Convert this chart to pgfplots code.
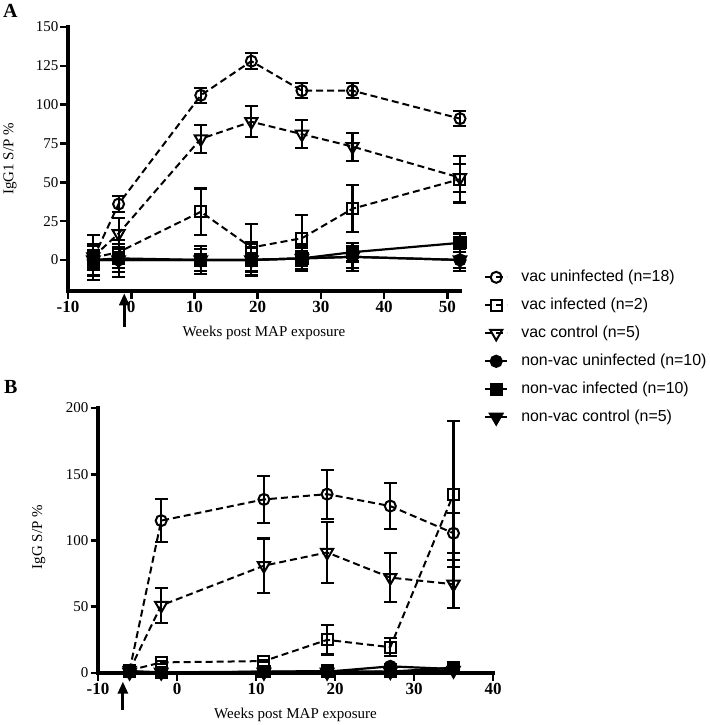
\documentclass[border=0pt]{standalone}
\usepackage{fontspec}
\setmainfont{Liberation Serif}
\newfontfamily\legfont{Liberation Sans}
\usepackage{pgfplots}
\pgfplotsset{compat=1.18}
\usetikzlibrary{arrows.meta}
\tikzset{thickaxes/.style={line width=3.4pt,black,line cap=rect}}
\pgfplotsset{
 gp/.style={
  scale only axis,
  axis x line=bottom, axis y line=left,
  every outer x axis line/.append style={line width=3.4pt,-},
  every outer y axis line/.append style={line width=3.4pt,-},
  tick align=outside,
  major tick length=7.5pt,
  every tick/.append style={line width=2.6pt,black},
  major tick style={line width=2.6pt,black},
  xticklabel style={font=\fontsize{17}{19}\selectfont\bfseries,inner sep=2pt},
  yticklabel style={font=\fontsize{15}{17}\selectfont,inner sep=2pt},
  label style={font=\fontsize{15}{17}\selectfont},
  clip=false,
 },
 errb/.style={error bars/y dir=both, error bars/y explicit,
   error bars/error bar style={line width=2.1pt,solid,black},
   error bars/error mark options={rotate=90,mark size=6.5pt,line width=2.1pt,solid,black}},
 vac/.style={black,line width=2pt,dash pattern=on 7pt off 4pt, errb},
 nonvac/.style={black,line width=2.2pt,solid, errb},
 m1/.style={mark=o,mark size=5.5pt,mark options={solid,line width=2pt,fill=none}},
 m2/.style={mark=square,mark size=5.5pt,mark options={solid,line width=2pt,fill=none}},
 m3/.style={mark=triangle,mark size=7pt,mark options={solid,line width=2pt,fill=none,rotate=180}},
 m4/.style={mark=*,mark size=5.5pt,mark options={solid,fill=black}},
 m5/.style={mark=square*,mark size=5.5pt,mark options={solid,fill=black}},
 m6/.style={mark=triangle*,mark size=7pt,mark options={solid,fill=black,rotate=180}},
}
\begin{document}
\begin{tikzpicture}
\useasboundingbox (0,0) rectangle (709pt,-725pt);
\node[font=\fontsize{20}{24}\selectfont\bfseries,anchor=base west,inner sep=0pt] at (3pt,-18pt) {A};
\node[font=\fontsize{20}{24}\selectfont\bfseries,anchor=base west,inner sep=0pt] at (4pt,-393pt) {B};
% Panel A
\begin{axis}[gp,
  at={(68pt,-291pt)}, anchor=south west,
  width=392pt, height=264pt,
  xmin=-10, xmax=52, ymin=-20, ymax=150,
  xtick={-10,0,10,20,30,40,50}, xticklabels={\textbf{-10},\textbf{0},\textbf{10},\textbf{20},\textbf{30},\textbf{40},\textbf{50}},
  ytick={0,25,50,75,100,125,150}, yticklabels={0,25,50,75,100,125,150},
  xlabel={Weeks post MAP exposure}, ylabel={IgG1 S/P \%},
  xlabel style={at={(axis description cs:0.5,-0.159)},anchor=center},
  ylabel style={at={(axis description cs:-0.148,0.5)},anchor=center},
  legend style={at={(1.061,0.082)},anchor=north west,draw=none,fill=none,
    inner sep=0pt, row sep=12.5pt, column sep=13pt,
    font=\legfont\fontsize{15.9}{18}\selectfont,
    nodes={inner sep=0pt,text height=12pt,text depth=3.5pt}},
  legend cell align=left,
  legend image code/.code={\draw[mark repeat=2,mark phase=2,#1] plot coordinates {(0pt,0pt) (11pt,0pt) (22pt,0pt)};},
]
\draw[thickaxes] (rel axis cs:0,1) -- (rel axis cs:0,0) -- (rel axis cs:1,0);
\addplot[vac,m1] coordinates {(-6,1)+-(0,4) (-2,36)+-(0,5) (11,106)+-(0,5) (19,128)+-(0,5) (27,109)+-(0,5) (35,109)+-(0,5) (52,91)+-(0,5)};
\addlegendentry{vac uninfected (n=18)}
\addplot[vac,m2] coordinates {(-6,1.5)+-(0,14.5) (-2,5)+-(0,5) (11,31)+-(0,15) (19,8)+-(0,15) (27,14)+-(0,15) (35,33)+-(0,15) (52,52)+-(0,15)};
\addlegendentry{vac infected (n=2)}
\addplot[vac,m3] coordinates {(-6,2)+-(0,7) (-2,17)+-(0,10) (11,78)+-(0,9) (19,89)+-(0,10) (27,81)+-(0,9) (35,73)+-(0,9) (52,53)+-(0,9)};
\addlegendentry{vac control (n=5)}
\addplot[nonvac,m4] coordinates {(-6,0)+-(0,6.5) (-2,0)+-(0,8) (11,0)+-(0,7) (19,0)+-(0,8) (27,1)+-(0,7) (35,2)+-(0,9) (52,0)+-(0,7)};
\addlegendentry{non-vac uninfected (n=10)}
\addplot[nonvac,m5] coordinates {(-6,0)+-(0,10) (-2,1)+-(0,12) (11,0)+-(0,9) (19,0)+-(0,10) (27,1)+-(0,8) (35,5)+-(0,6) (52,11)+-(0,6)};
\addlegendentry{non-vac infected (n=10)}
\addplot[nonvac,m6] coordinates {(-6,0)+-(0,3) (-2,0)+-(0,5) (11,0)+-(0,4) (19,0)+-(0,4) (27,1)+-(0,5) (35,2)+-(0,7) (52,0)+-(0,5)};
\addlegendentry{non-vac control (n=5)}
\draw[-{Triangle[length=12pt,width=10pt]},line width=2.8pt] (axis cs:-1.1,-43) -- (axis cs:-1.1,-21.5);
\end{axis}
% Panel B
\begin{axis}[gp,
  at={(98pt,-673pt)}, anchor=south west,
  width=395pt, height=265pt,
  xmin=-10, xmax=40, ymin=0, ymax=200,
  xtick={-10,0,10,20,30,40}, xticklabels={\textbf{-10},\textbf{0},\textbf{10},\textbf{20},\textbf{30},\textbf{40}},
  ytick={0,50,100,150,200}, yticklabels={0,50,100,150,200},
  xlabel={Weeks post MAP exposure}, ylabel={IgG S/P \%},
  xlabel style={at={(axis description cs:0.5,-0.158)},anchor=center},
  ylabel style={at={(axis description cs:-0.150,0.513)},anchor=center},
]
\draw[thickaxes] (rel axis cs:0,1) -- (rel axis cs:0,0) -- (rel axis cs:1,0);
\addplot[vac,m1] coordinates {(-6,2)+-(0,1) (-2,115)+-(0,16) (11,131)+-(0,18) (19,135)+-(0,18.5) (27,126)+-(0,17.5) (35,105.5)+-(0,15)};
\addplot[vac,m2] coordinates {(-6,2)+-(0,1) (-2,8)+-(0,1) (11,9)+-(0,1) (19,25)+-(0,11) (27,19.5)+-(0,7) (35,135)+-(0,55)};
\addplot[vac,m3] coordinates {(-6,2)+-(0,1) (-2,51)+-(0,13) (11,81)+-(0,20.5) (19,91)+-(0,23) (27,72)+-(0,18.5) (35,67)+-(0,18)};
\addplot[nonvac,m4] coordinates {(-6,1)+-(0,1) (-2,0)+-(0,1) (11,1)+-(0,1) (19,1)+-(0,1) (27,5)+-(0,2) (35,3)+-(0,1)};
\addplot[nonvac,m5] coordinates {(-6,1.5)+-(0,1) (-2,0.5)+-(0,1) (11,1)+-(0,1) (19,1.5)+-(0,1) (27,1)+-(0,1) (35,4)+-(0,1)};
\addplot[nonvac,m6] coordinates {(-6,0.5)+-(0,1) (-2,0.5)+-(0,1) (11,0.5)+-(0,1) (19,0.5)+-(0,1) (27,1)+-(0,1) (35,2)+-(0,1)};
\draw[-{Triangle[length=12pt,width=10pt]},line width=2.8pt] (axis cs:-6.85,-28) -- (axis cs:-6.85,-6.5);
\end{axis}
\end{tikzpicture}
\end{document}
